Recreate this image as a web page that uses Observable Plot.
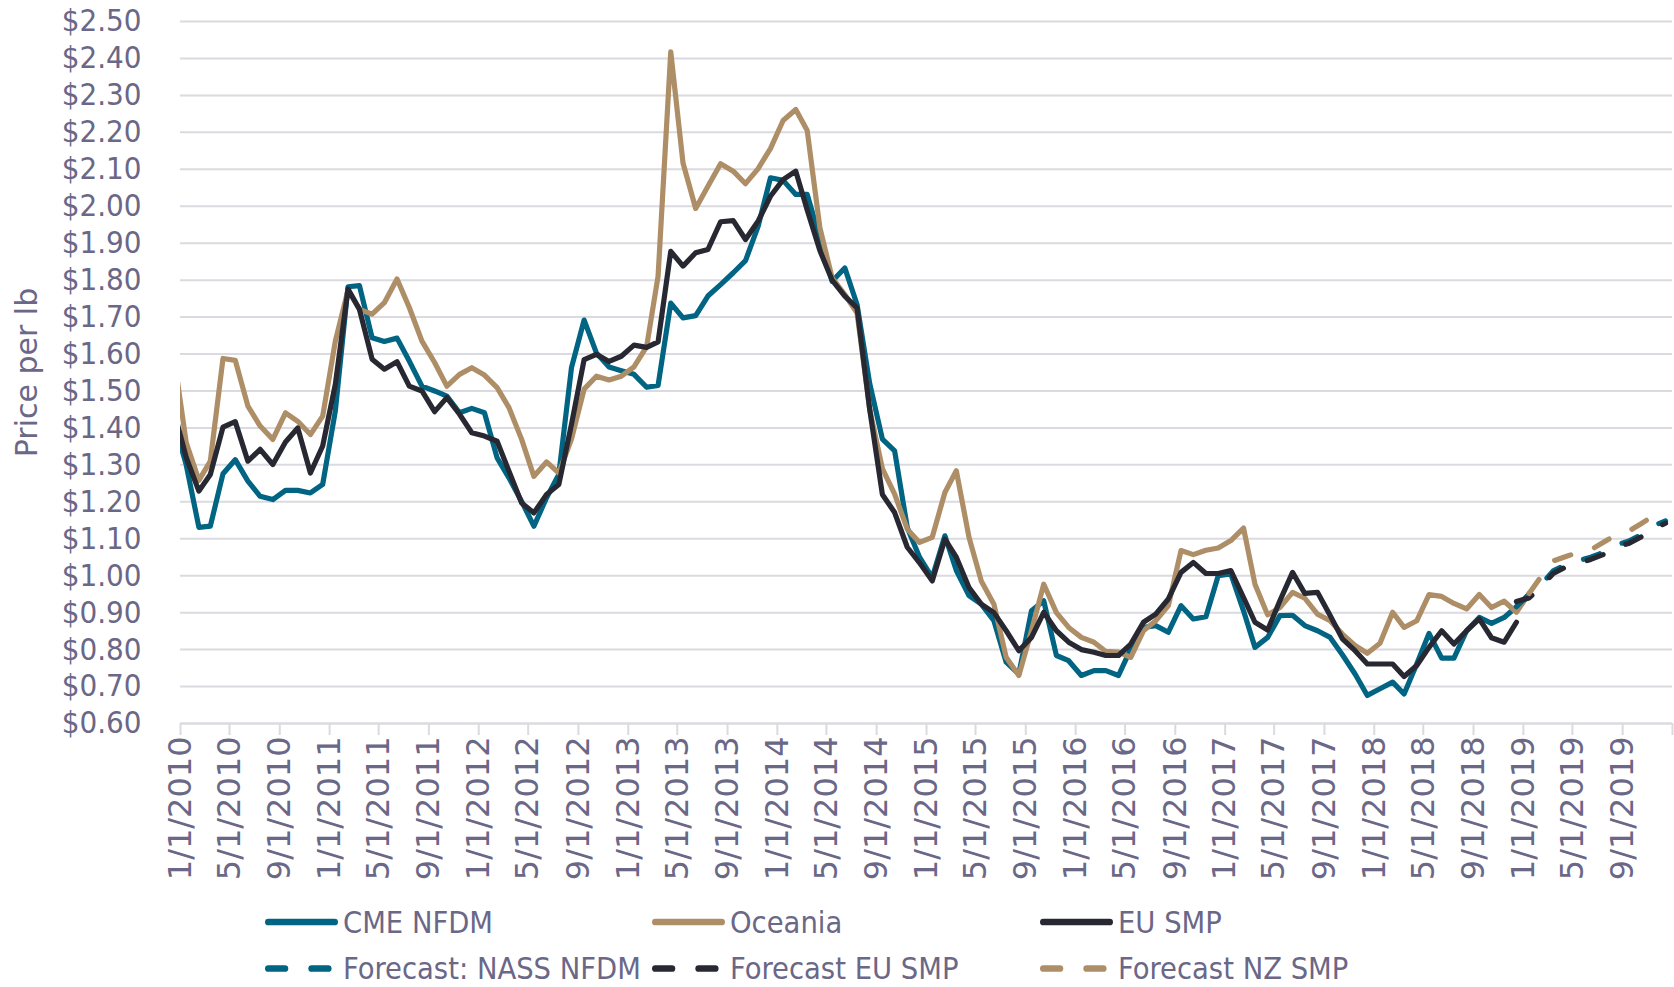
<!DOCTYPE html>
<html><head><meta charset="utf-8">
<script src="https://cdn.jsdelivr.net/npm/d3@7"></script>
<script src="https://cdn.jsdelivr.net/npm/@observablehq/plot@0.6"></script>
<style>
html,body{margin:0;padding:0;background:#fff;}
#wrap{position:relative;width:1674px;height:987px;overflow:hidden;background:#fff;}
#chart{position:absolute;left:0;top:0;}
#legend{position:absolute;left:0;top:890px;}
</style></head>
<body><div id="wrap"><div id="chart"></div><svg id="legend" width="1674" height="97"></svg></div>
<script>
// ---- DATA (monthly, first value = Dec 2009, plotted mid-month) ----
const cmeNfdm = [1.42,
  1.30, 1.131, 1.134, 1.276, 1.314, 1.256, 1.215, 1.206, 1.231, 1.231, 1.224, 1.247,
  1.446, 1.782, 1.785, 1.644, 1.634, 1.643, 1.581, 1.513, 1.50, 1.486, 1.441, 1.453,
  1.441, 1.319, 1.265, 1.201, 1.134, 1.211, 1.274, 1.563, 1.692, 1.603, 1.565, 1.555,
  1.545, 1.51, 1.515, 1.738, 1.698, 1.704, 1.757, 1.788, 1.82, 1.853, 1.946, 2.077,
  2.07, 2.032, 2.032, 1.914, 1.797, 1.833, 1.734, 1.52, 1.37, 1.338, 1.13, 1.05,
  0.995, 1.108, 1.014, 0.946, 0.923, 0.878, 0.766, 0.734, 0.905, 0.932, 0.784, 0.77,
  0.73, 0.743, 0.743, 0.73, 0.802, 0.86, 0.865, 0.847, 0.919, 0.883, 0.889, 1.00,
  1.005, 0.905, 0.806, 0.833, 0.892, 0.893, 0.865, 0.851, 0.833, 0.786, 0.734, 0.676,
  0.694, 0.712, 0.68, 0.761, 0.844, 0.777, 0.777, 0.851, 0.887, 0.871, 0.887, 0.916];
const oceania = [1.60,
  1.36, 1.258, 1.310, 1.588, 1.583, 1.459, 1.405, 1.369, 1.441, 1.418, 1.382, 1.432,
  1.635, 1.773, 1.721, 1.708, 1.739, 1.803, 1.726, 1.635, 1.577, 1.513, 1.545, 1.563,
  1.543, 1.509, 1.455, 1.369, 1.269, 1.308, 1.278, 1.37, 1.505, 1.54, 1.53, 1.54,
  1.565, 1.62, 1.811, 2.418, 2.117, 1.994, 2.054, 2.115, 2.095, 2.061, 2.102, 2.156,
  2.232, 2.262, 2.205, 1.942, 1.806, 1.761, 1.711, 1.45, 1.29, 1.221, 1.126, 1.09,
  1.104, 1.225, 1.284, 1.104, 0.986, 0.923, 0.779, 0.730, 0.851, 0.977, 0.90, 0.86,
  0.833, 0.82, 0.795, 0.793, 0.779, 0.851, 0.878, 0.919, 1.068, 1.057, 1.069, 1.075,
  1.095, 1.129, 0.977, 0.894, 0.914, 0.955, 0.939, 0.896, 0.878, 0.842, 0.811, 0.79,
  0.817, 0.901, 0.86, 0.878, 0.949, 0.944, 0.925, 0.91, 0.949, 0.914, 0.931, 0.901,
  0.952];
const euSmp = [1.45,
  1.32, 1.229, 1.274, 1.402, 1.417, 1.310, 1.342, 1.301, 1.362, 1.400, 1.278, 1.351,
  1.518, 1.776, 1.721, 1.586, 1.559, 1.579, 1.513, 1.50, 1.444, 1.482, 1.437, 1.387,
  1.378, 1.364, 1.283, 1.197, 1.170, 1.220, 1.247, 1.41, 1.585, 1.599, 1.58, 1.594,
  1.624, 1.618, 1.633, 1.878, 1.838, 1.874, 1.883, 1.958, 1.961, 1.91, 1.96, 2.027,
  2.072, 2.095, 1.99, 1.88, 1.80, 1.757, 1.725, 1.45, 1.22, 1.171, 1.077, 1.035,
  0.986, 1.099, 1.05, 0.968, 0.923, 0.90, 0.851, 0.797, 0.833, 0.901, 0.851, 0.82,
  0.80, 0.793, 0.784, 0.784, 0.815, 0.874, 0.896, 0.937, 1.009, 1.036, 1.006, 1.006,
  1.014, 0.941, 0.874, 0.853, 0.932, 1.009, 0.952, 0.955, 0.892, 0.829, 0.797, 0.761,
  0.761, 0.761, 0.727, 0.757, 0.806, 0.851, 0.815, 0.851, 0.883, 0.832, 0.82, 0.874];
// forecasts: NASS & EU start Dec 2018, NZ starts Jan 2019
const nassForecast = [0.916, 0.95, 0.978, 1.013, 1.03, 1.04, 1.05, 1.063, 1.083, 1.093, 1.11, 1.135, 1.148];
const euForecast   = [0.93, 0.94, 0.972, 1.006, 1.024, 1.034, 1.044, 1.057, 1.077, 1.087, 1.104, 1.127, 1.142];
const nzForecast   = [0.952, 1.00, 1.04, 1.052, 1.063, 1.07, 1.09, 1.11, 1.12, 1.14, 1.162, 1.173];

const yTicks = [0.6, 0.7, 0.8, 0.9, 1.0, 1.1, 1.2, 1.3, 1.4, 1.5, 1.6, 1.7, 1.8, 1.9, 2.0, 2.1, 2.2, 2.3, 2.4, 2.5];
const seriesNames = ["CME NFDM", "Oceania", "EU SMP", "Forecast: NASS NFDM", "Forecast EU SMP", "Forecast NZ SMP"];

// ---- STYLE ----
const BLUE = "#016483", TAN = "#AE8E66", BLACK = "#282833";
const TEXT = "#6A6787", GRID = "#DADAE0";
const CONDENSED = "'DejaVu Sans Condensed', 'DejaVu Sans', sans-serif";
const REGULAR = "'DejaVu Sans', sans-serif";

// month offset from Dec 2009, placed on the 15th
const monthDate = (off) => new Date(Date.UTC(2009, 11 + off, 15));
const rows = (vals, startOff) => vals.map((v, i) => ({date: monthDate(startOff + i), value: v}));

const xTickDates = d3.utcMonth.range(new Date(Date.UTC(2010, 0, 1)), new Date(Date.UTC(2020, 0, 2)), 4);
const xLabelDates = xTickDates.filter(d => d.getUTCFullYear() < 2020);
const fmtX = d => `${d.getUTCMonth() + 1}/${d.getUTCDate()}/${d.getUTCFullYear()}`;

const lineOpts = (stroke, dashed) => ({
  x: "date", y: "value", stroke, strokeWidth: 5.2,
  strokeLinejoin: "round", strokeLinecap: "round", clip: true,
  ...(dashed ? {strokeDasharray: "17,25"} : {})
});

const chart = Plot.plot({
  width: 1674, height: 890,
  marginLeft: 180, marginRight: 2, marginTop: 21, marginBottom: 167,
  style: {background: "white", color: TEXT, fontFamily: REGULAR},
  x: {type: "utc", domain: [new Date(Date.UTC(2010, 0, 1)), new Date(Date.UTC(2020, 0, 1))]},
  y: {domain: [0.6, 2.5]},
  marks: [
    Plot.ruleY(yTicks.filter(v => v > 0.65), {stroke: GRID, strokeWidth: 2}),
    Plot.ruleY([0.6], {stroke: GRID, strokeWidth: 2.5}),
    Plot.axisY(yTicks, {tickSize: 0, tickPadding: 39, tickFormat: d => "$" + d.toFixed(2),
      fontSize: 31, fontFamily: CONDENSED, fill: TEXT, label: null}),
    Plot.text(["Price per lb"], {frameAnchor: "left", textAnchor: "middle", lineAnchor: "middle",
      dx: -153, rotate: -90, fontSize: 30, fill: TEXT, fontFamily: REGULAR}),
    // tick marks only
    Plot.axisX(xTickDates, {tickSize: 12, tickFormat: () => "", stroke: GRID, strokeWidth: 2, label: null}),
    // rotated date labels
    Plot.text(xLabelDates, {x: d => d, text: fmtX, frameAnchor: "bottom", dy: 13,
      rotate: -90, textAnchor: "end", lineAnchor: "middle",
      fontSize: 32, fontFamily: REGULAR, fill: TEXT}),
    Plot.line(rows(cmeNfdm, 0), lineOpts(BLUE)),
    Plot.line(rows(oceania, 0), lineOpts(TAN)),
    Plot.line(rows(euSmp, 0), lineOpts(BLACK)),
    Plot.line(rows(nassForecast, 108), lineOpts(BLUE, true)),
    Plot.line(rows(euForecast, 108), lineOpts(BLACK, true)),
    Plot.line(rows(nzForecast, 109), lineOpts(TAN, true))
  ]
});
document.getElementById("chart").appendChild(chart);

// ---- LEGEND ----
const legendColors = [BLUE, TAN, BLACK, BLUE, BLACK, TAN];
const legendDashed = [false, false, false, true, true, true];
const colX = [265, 652, 1040];
const rowY = [32, 78.5];
const lg = d3.select("#legend");
seriesNames.forEach((name, i) => {
  const x = colX[i % 3], y = rowY[Math.floor(i / 3)];
  const sw = 6.7;
  lg.append("line")
    .attr("x1", x + sw / 2).attr("x2", x + 73 - sw / 2).attr("y1", y).attr("y2", y)
    .attr("stroke", legendColors[i]).attr("stroke-width", sw).attr("stroke-linecap", "round")
    .attr("stroke-dasharray", legendDashed[i] ? "16.6,26.7" : null);
  lg.append("text").attr("x", x + 78).attr("y", y).attr("dy", "0.36em")
    .attr("fill", TEXT).attr("font-size", 30.5).attr("font-family", CONDENSED)
    .text(name);
});
</script></body></html>
